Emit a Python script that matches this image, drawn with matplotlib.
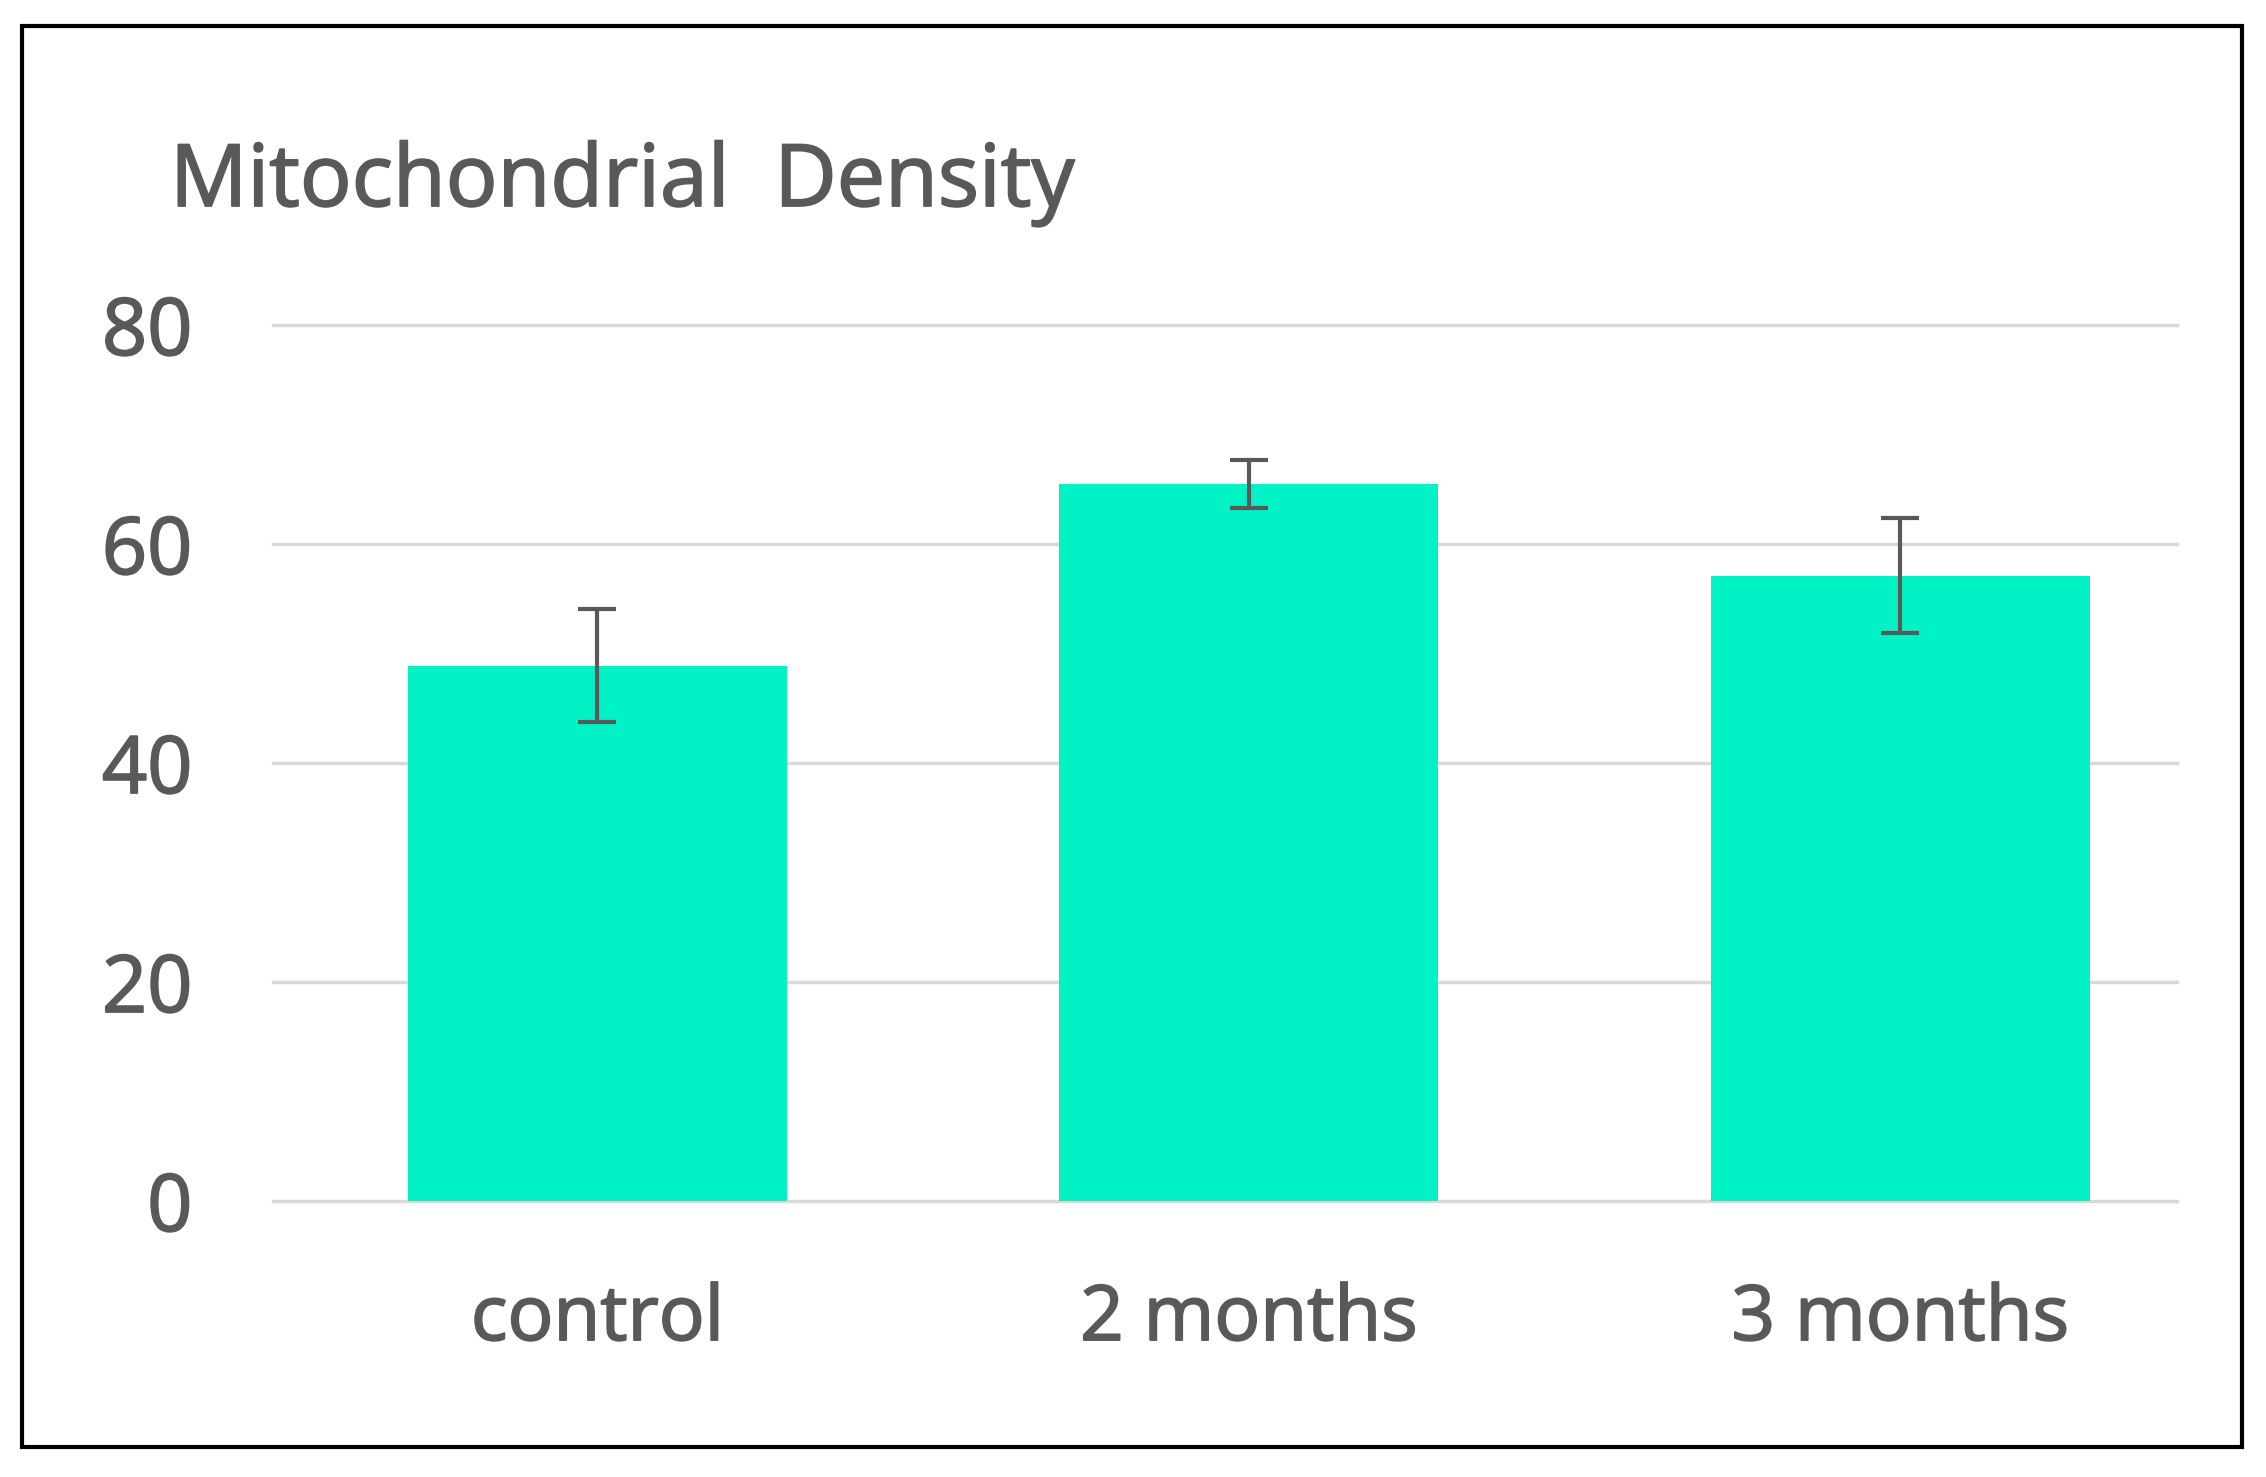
import matplotlib
matplotlib.use("Agg")
import matplotlib.pyplot as plt
import matplotlib.patheffects as pe
from matplotlib.patches import Rectangle

categories = ["control", "2 months", "3 months"]
values = [48.9, 65.5, 57.1]
errors = [5.15, 2.2, 5.25]
yticks = [0, 20, 40, 60, 80]
title = "Mitochondrial  Density"

plt.rcParams['font.family'] = ['Open Sans', 'DejaVu Sans']

TXT = "#595959"
W, H = 2266, 1477
fig = plt.figure(figsize=(W / 100, H / 100), dpi=100)
fig.patch.set_facecolor("white")

# frame border
fig.patches.append(Rectangle((22 / W, 1 - 1447 / H), (2242 - 22) / W, (1447 - 26) / H,
                             transform=fig.transFigure, fill=False, edgecolor="black",
                             linewidth=3.0, zorder=10))

ax_left, ax_right = 273, 2177
ax_top, ax_bottom = 325, 1201
ax = fig.add_axes([ax_left / W, 1 - ax_bottom / H, (ax_right - ax_left) / W, (ax_bottom - ax_top) / H])

x = list(range(len(categories)))
ax.bar(x, values, width=0.582, color="#00F2C5", zorder=3)
ax.errorbar(x, values, yerr=errors, fmt="none", ecolor=TXT, elinewidth=3.0,
            capsize=14, capthick=3.0, zorder=4)

ax.set_xlim(-0.498, 2.425)
ax.set_ylim(0, 80)
ax.set_yticks(yticks)
ax.set_xticks(x)
ax.set_xticklabels(categories)
ax.grid(axis="y", color="#d9d9d9", linewidth=2.5, zorder=0)
ax.set_axisbelow(True)
for gl in ax.get_ygridlines():
    gl.set_clip_on(False)
for s in ax.spines.values():
    s.set_visible(False)
ax.tick_params(axis="both", length=0, colors=TXT)
ax.tick_params(axis="y", pad=58, labelsize=57)
ax.tick_params(axis="x", pad=58, labelsize=55)
thick = [pe.withStroke(linewidth=1.3, foreground=TXT)]
for lbl in ax.get_xticklabels() + ax.get_yticklabels():
    lbl.set_path_effects(thick)

fig.text(170 / W, 1 - 206 / H, title, fontsize=62, color=TXT, ha="left",
         va="baseline", path_effects=thick)

fig.savefig("out.png", dpi=100, facecolor="white")
